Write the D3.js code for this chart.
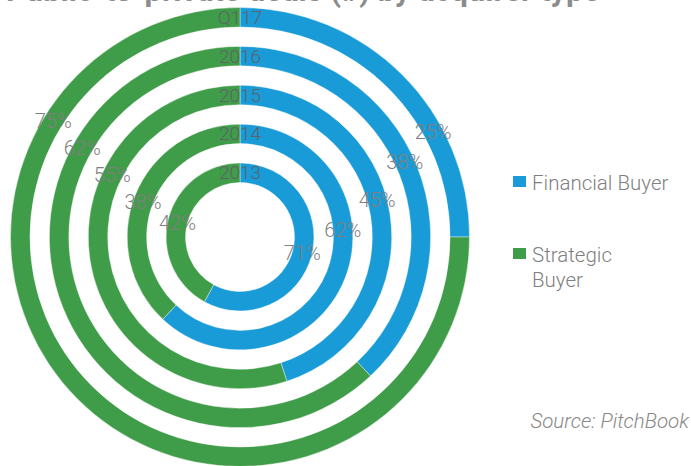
<!DOCTYPE html>
<html>
<head>
<meta charset="utf-8">
<script src="https://cdn.jsdelivr.net/npm/d3@7"></script>
<style>
  html, body { margin: 0; padding: 0; background: #fff; }
  svg { display: block; }
</style>
</head>
<body>
<svg id="chart" width="691" height="466"></svg>
<script>
// ---- data ----
const title = "Public-to-private deals (#) by acquirer type";
const years = ["2013", "2014", "2015", "2016", "Q117"];
const financial = [58, 62, 45, 38, 25];          // share drawn as arc (%)
const strategic = [42, 38, 55, 62, 75];
const financialLabels = ["71%", "62%", "45%", "38%", "25%"];
const strategicLabels = ["42%", "38%", "55%", "62%", "75%"];
const seriesNames = ["Financial Buyer", "Strategic Buyer"];
const source = "Source: PitchBook";

// ---- layout ----
const W = 691, H = 466;
const cx = 240, cy = 237;
const colors = ["#189bd7", "#3f9c48"];
const font = "Roboto, 'Open Sans', sans-serif";
// label angle placement (degrees clockwise from 12 o'clock)
const finLabelAngle = [104, 86, 75, 65.6, 61.5];
const strLabelAngle = [283, 289.7, 295.9, 299.3, 301.8];

const svg = d3.select("#chart");

const rScale = d3.scaleBand().domain(years).range([54.5, 229.5]).paddingInner(0.5).paddingOuter(0);
const angle = d3.scaleLinear().domain([0, 100]).range([0, 2 * Math.PI]);

const g = svg.append("g").attr("transform", `translate(${cx},${cy})`);

const rings = years.map((y, i) => ({
  year: y,
  parts: [
    { s: 0, v: financial[i], k: 0 },
    { s: financial[i], v: strategic[i], k: 1 }
  ]
}));

const arc = d3.arc();
rings.forEach(ring => {
  const r0 = rScale(ring.year), r1 = r0 + rScale.bandwidth();
  g.selectAll(null).data(ring.parts).enter().append("path")
    .attr("d", d => arc({
      innerRadius: r0, outerRadius: r1,
      startAngle: angle(d.s), endAngle: angle(d.s + d.v)
    }))
    .attr("fill", d => colors[d.k])
    .attr("stroke", "#ffffff")
    .attr("stroke-width", 0.4);
});

// title (cut at top)
const t = svg.append("text").attr("x", 6).attr("y", 1)
  .attr("font-family", font).attr("font-weight", 700).attr("font-size", 26)
  .attr("fill", "#8c8c8c").text(title);
const tl = t.node().getComputedTextLength();
t.attr("font-size", 26 * 594 / tl);

// year labels at top
years.forEach((y, i) => {
  const rm = rScale(y) + rScale.bandwidth() / 2;
  g.append("text")
    .attr("x", 0).attr("y", -rm)
    .attr("text-anchor", "middle").attr("dominant-baseline", "central")
    .attr("font-family", font).attr("font-size", 19).attr("font-weight", 300)
    .attr("fill", "#5f6368").text(y);
});

function polar(r, deg) {
  const a = deg * Math.PI / 180;
  return [r * Math.sin(a), -r * Math.cos(a)];
}
years.forEach((y, i) => {
  const rm = rScale(y) + rScale.bandwidth() / 2;
  const p1 = polar(rm, finLabelAngle[i]);
  g.append("text").attr("x", p1[0]).attr("y", p1[1])
    .attr("text-anchor", "middle").attr("dominant-baseline", "central")
    .attr("font-family", font).attr("font-size", 20).attr("font-weight", 300)
    .attr("fill", "#7f7f7f").text(financialLabels[i]);
  const p2 = polar(rm, strLabelAngle[i]);
  g.append("text").attr("x", p2[0]).attr("y", p2[1])
    .attr("text-anchor", "middle").attr("dominant-baseline", "central")
    .attr("font-family", font).attr("font-size", 20).attr("font-weight", 300)
    .attr("fill", "#7f7f7f").text(strategicLabels[i]);
});

// legend
const leg = svg.append("g").attr("transform", "translate(513,176)");
leg.append("rect").attr("x", 0).attr("y", 0).attr("width", 13).attr("height", 11).attr("fill", colors[0]);
leg.append("text").attr("x", 19).attr("y", 14)
  .attr("font-family", font).attr("font-size", 20.5).attr("font-weight", 300)
  .attr("fill", "#7f7f7f").text(seriesNames[0]);
leg.append("rect").attr("x", 0).attr("y", 72).attr("width", 13).attr("height", 11).attr("fill", colors[1]);
const lt = leg.append("text")
  .attr("font-family", font).attr("font-size", 20.5).attr("font-weight", 300)
  .attr("fill", "#7f7f7f");
const words = seriesNames[1].split(" ");
lt.append("tspan").attr("x", 19).attr("y", 86).text(words[0]);
lt.append("tspan").attr("x", 19).attr("y", 111).text(words[1]);

// source
svg.append("text").attr("x", 689).attr("y", 428).attr("text-anchor", "end")
  .attr("font-family", font).attr("font-size", 20.5).attr("font-style", "italic").attr("font-weight", 300)
  .attr("fill", "#888").text(source);
</script>
</body>
</html>
